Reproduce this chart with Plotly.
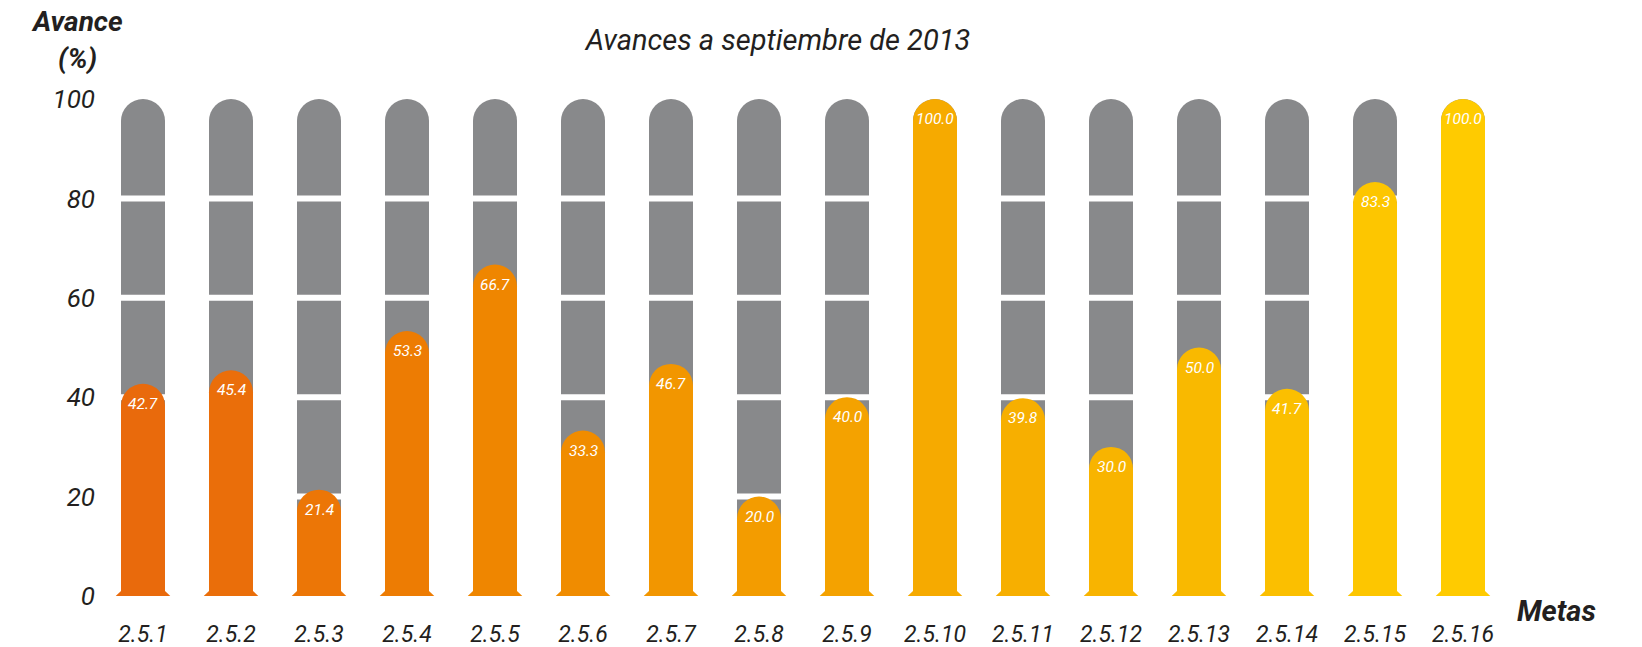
import plotly.graph_objects as go

metas = ["2.5.1", "2.5.2", "2.5.3", "2.5.4", "2.5.5", "2.5.6", "2.5.7", "2.5.8",
         "2.5.9", "2.5.10", "2.5.11", "2.5.12", "2.5.13", "2.5.14", "2.5.15", "2.5.16"]
avance = [42.7, 45.4, 21.4, 53.3, 66.7, 33.3, 46.7, 20.0,
          40.0, 100.0, 39.8, 30.0, 50.0, 41.7, 83.3, 100.0]
total = [100] * len(metas)
colores = ["#E96A0C", "#EA6E0A", "#EC7606", "#ED7C03", "#EF8600", "#F08C00", "#F29600", "#F39C00",
           "#F4A200", "#F6AA00", "#F7AF00", "#F8B400", "#F9B900", "#FBBF00", "#FDC600", "#FFCB00"]
grid_vals = [20, 40, 60, 80]
y_ticks = [0, 20, 40, 60, 80, 100]

FONT = "Roboto, Open Sans, sans-serif"
TXT = "#231F20"
GREY = "#88898B"
BW = 0.5

xs = list(range(len(metas)))

# plot area in pixels
L, R, T, B = 99, 135, 99, 51
W, H = 1642, 647
pw, ph = W - L - R, H - T - B


def px_to_paper(px, py):
    return (px - L) / pw, (H - B - py) / ph


fig = go.Figure()

# grey background bars (full 100)
fig.add_trace(go.Bar(x=xs, y=total, width=BW, marker=dict(color=GREY, cornerradius="50%", line=dict(width=0)),
                     hoverinfo="skip", showlegend=False, xaxis="x", yaxis="y"))

# white gaps at grid values across grey bars
gx, gy = [], []
for i in xs:
    for g in grid_vals:
        gx += [i - BW / 2 - 0.02, i + BW / 2 + 0.02, None]
        gy += [g, g, None]
fig.add_trace(go.Scatter(x=gx, y=gy, mode="lines", line=dict(color="white", width=6),
                         hoverinfo="skip", showlegend=False, xaxis="x", yaxis="y"))

# coloured progress bars on an overlaying subplot
fig.add_trace(go.Bar(x=xs, y=avance, width=BW, marker=dict(color=colores, cornerradius="50%", line=dict(width=0)),
                     hoverinfo="skip", showlegend=False, xaxis="x2", yaxis="y2"))

# small flared feet at the base of each coloured bar
for i, c in zip(xs, colores):
    fx = [i - BW / 2 - 0.06, i - BW / 2, i - BW / 2, None, i + BW / 2 + 0.06, i + BW / 2, i + BW / 2]
    fy = [0, 0, 1.0, None, 0, 0, 1.0]
    fig.add_trace(go.Scatter(x=fx, y=fy, mode="lines", fill="toself", fillcolor=c,
                             line=dict(width=0, color=c), hoverinfo="skip", showlegend=False,
                             xaxis="x2", yaxis="y2"))

annotations = []
for i, v in zip(xs, avance):
    annotations.append(dict(x=i, y=v, xref="x2", yref="y2", text=f"<i>{v:.1f}</i>", showarrow=False,
                            yshift=-20, yanchor="middle", xanchor="center",
                            font=dict(family=FONT, size=15.5, color="white")))

ax, ay = px_to_paper(77, 22)
annotations.append(dict(x=ax, y=ay, xref="paper", yref="paper", text="<b><i>Avance</i></b>", showarrow=False,
                        xanchor="center", yanchor="middle", font=dict(family=FONT, size=28, color=TXT)))
ax, ay = px_to_paper(77, 59)
annotations.append(dict(x=ax, y=ay, xref="paper", yref="paper", text="<b><i>(%)</i></b>", showarrow=False,
                        xanchor="center", yanchor="middle", font=dict(family=FONT, size=28, color=TXT)))
ax, ay = px_to_paper(1556, 611)
annotations.append(dict(x=ax, y=ay, xref="paper", yref="paper", text="<b><i>Metas</i></b>", showarrow=False,
                        xanchor="center", yanchor="middle", font=dict(family=FONT, size=29, color=TXT)))

xr = [-0.5, len(metas) - 0.5]
fig.update_layout(
    width=W, height=H,
    margin=dict(l=L, r=R, t=T, b=B, autoexpand=False),
    paper_bgcolor="white", plot_bgcolor="white",
    barmode="overlay",
    title=dict(text="<i>Avances a septiembre de 2013</i>", x=778 / W, xref="container", xanchor="center",
               y=1 - 40 / H, yref="container", yanchor="middle",
               font=dict(family=FONT, size=29, color=TXT)),
    xaxis=dict(range=xr, tickvals=xs, ticktext=[f"<i>{m}</i>" for m in metas], showgrid=False, zeroline=False,
               showline=False, ticks="", ticklabelstandoff=22, automargin=False,
               tickfont=dict(family=FONT, size=23, color=TXT), fixedrange=True),
    yaxis=dict(range=[0, 100], tickvals=y_ticks, ticktext=[f"<i>{t}</i>" for t in y_ticks], showgrid=False,
               zeroline=False, showline=False, ticks="", ticklabelstandoff=3, automargin=False,
               tickfont=dict(family=FONT, size=26, color=TXT), fixedrange=True),
    xaxis2=dict(range=xr, overlaying="x", visible=False, fixedrange=True),
    yaxis2=dict(range=[0, 100], overlaying="y", visible=False, fixedrange=True),
    annotations=annotations,
    showlegend=False,
)

fig.write_html("out.html", config={"displayModeBar": False},
               post_script="document.body.style.margin='0px';document.body.style.overflow='hidden';")
